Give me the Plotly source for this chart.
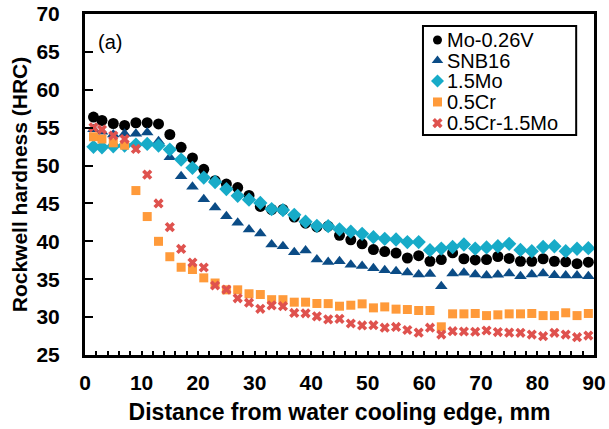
import plotly.graph_objects as go

distance_mm = [1.5, 3, 5, 7, 9, 11, 13, 15, 17, 19, 21, 23, 25, 27, 29, 31, 33, 35, 37, 39,
               41, 43, 45, 47, 49, 51, 53, 55, 57, 59, 61, 63, 65, 67, 69, 71, 73, 75, 77, 79,
               81, 83, 85, 87, 89]

mo_026v = [56.4, 55.95, 55.55, 55.3, 55.65, 55.65, 55.5, 54.1, 52.4, 51.0, 49.5, 48.0, 47.55,
           47.1, 46.05, 44.6, 44.2, 44.2, 43.2, 42.4, 41.9, 42.0, 40.8, 40.2, 39.67, 38.92,
           38.65, 38.45, 37.8, 38.1, 37.37, 37.6, 38.48, 37.7, 37.55, 37.6, 38.0, 37.75, 37.37,
           37.37, 37.7, 37.37, 37.3, 37.05, 37.25]

snb16 = [54.8, 54.45, 54.1, 54.2, 54.2, 54.35, 53.2, 51.1, 48.6, 47.2, 45.55, 44.45, 43.3,
         42.44, 41.56, 41.03, 39.58, 39.35, 38.56, 38.8, 37.6, 37.27, 37.37, 36.92, 36.75,
         36.45, 36.2, 36.06, 35.9, 35.62, 35.68, 34.08, 35.75, 35.84, 35.62, 35.49, 35.58,
         35.75, 35.38, 35.62, 35.75, 35.53, 35.49, 35.5, 35.4]

mo_15 = [52.47, 52.41, 52.55, 52.64, 52.77, 52.86, 52.64, 52.11, 50.79, 49.7, 48.42, 47.83,
         46.9, 46.0, 45.5, 45.07, 44.25, 44.13, 43.5, 42.6, 42.05, 42.0, 41.58, 41.27, 40.99,
         40.55, 40.33, 40.24, 39.9, 39.9, 38.83, 39.05, 39.25, 39.58, 39.05, 39.2, 39.35,
         39.67, 38.87, 38.7, 39.25, 39.35, 38.7, 39.02, 39.1]

cr_05 = [53.8, 53.5, 53.0, 52.68, 46.7, 43.27, 40.0, 37.97, 36.58, 36.28, 35.18, 34.5, 33.6,
         33.6, 33.08, 32.98, 32.3, 32.3, 31.97, 31.97, 31.8, 31.78, 31.44, 31.57, 31.75, 31.22,
         31.35, 31.05, 31.0, 30.87, 30.87, 28.72, 30.43, 30.43, 30.48, 30.2, 30.3, 30.43,
         30.43, 30.48, 30.2, 30.2, 30.57, 30.2, 30.48]

cr05_mo15 = [55.05, 54.75, 53.96, 53.5, 52.2, 48.8, 45.0, 41.88, 39.0, 37.2, 36.55, 34.17,
             33.64, 32.48, 31.9, 31.1, 31.55, 31.44, 30.55, 30.5, 30.1, 29.7, 29.77, 29.16,
             28.9, 28.93, 28.6, 28.7, 28.3, 27.95, 28.6, 27.7, 28.14, 28.1, 28.07, 28.23,
             28.03, 27.95, 27.93, 27.7, 27.48, 27.93, 27.7, 27.35, 27.57]

series_names = ["Mo-0.26V", "SNB16", "1.5Mo", "0.5Cr", "0.5Cr-1.5Mo"]
series_values = [mo_026v, snb16, mo_15, cr_05, cr05_mo15]
symbols = ["circle", "triangle-up", "diamond", "square", "x"]
marker_sizes = [11, 11, 11, 9, 9]
legend_marker_sizes = [9, 10, 10, 9, 9]
colors = ["#000000", "#0B4C86", "#17ABC8", "#FF9A3A", "#DF524E"]

FONT = "Arial, Liberation Sans, sans-serif"

fig = go.Figure()
for name, vals, sym, size, col in zip(series_names, series_values, symbols, marker_sizes, colors):
    fig.add_trace(go.Scatter(
        x=distance_mm, y=vals, mode="markers", name=name, showlegend=False,
        marker=dict(symbol=sym, size=size, color=col, line=dict(width=0)),
    ))

# Custom legend (box + markers on an overlay axis spanning the plot area + text)
leg_x0, leg_x1, leg_y0, leg_y1 = 0.664, 0.965, 0.645, 0.965
leg_marker_x = 0.6925
leg_text_x = 0.708
leg_rows_y = [0.9238, 0.8636, 0.8035, 0.7420, 0.6800]

fig.add_shape(type="rect", xref="paper", yref="paper",
              x0=leg_x0, x1=leg_x1, y0=leg_y0, y1=leg_y1,
              line=dict(color="black", width=2), fillcolor="white", layer="below")

for i, (name, sym, col) in enumerate(zip(series_names, symbols, colors)):
    fig.add_trace(go.Scatter(
        x=[leg_marker_x], y=[leg_rows_y[i]], mode="markers", showlegend=False,
        xaxis="x2", yaxis="y2", hoverinfo="skip",
        marker=dict(symbol=sym, size=legend_marker_sizes[i], color=col, line=dict(width=0)),
    ))
    fig.add_annotation(x=leg_text_x, y=leg_rows_y[i], xref="paper", yref="paper",
                       text=name, showarrow=False, xanchor="left", yanchor="middle",
                       font=dict(size=20, family=FONT, color="black"))

fig.add_annotation(x=0.022, y=0.918, xref="paper", yref="paper", text="(a)",
                   showarrow=False, xanchor="left", yanchor="middle",
                   font=dict(size=20, family=FONT, color="black"))

fig.update_layout(
    width=609, height=429,
    margin=dict(l=85, r=15, t=14, b=74),
    paper_bgcolor="white", plot_bgcolor="white",
    font=dict(family=FONT, color="black"),
    showlegend=False,
    xaxis=dict(
        range=[0, 90], dtick=10, tick0=0, automargin=False,
        showline=True, linecolor="black", linewidth=3, mirror=True,
        ticks="inside", ticklen=4, tickwidth=2, tickcolor="black",
        minor=dict(dtick=2, ticks="inside", ticklen=4, tickwidth=2, tickcolor="black"),
        showgrid=False, zeroline=False,
        tickfont=dict(size=21, family=FONT, weight="bold"),
        ticklabelstandoff=7,
        title=dict(text="Distance from water cooling edge, mm",
                   font=dict(size=23, family=FONT, weight="bold"), standoff=11),
    ),
    yaxis=dict(
        range=[25, 70], dtick=5, tick0=25, automargin=False,
        showline=True, linecolor="black", linewidth=3, mirror=True,
        ticks="inside", ticklen=8, tickwidth=2, tickcolor="black",
        showgrid=False, zeroline=False,
        tickfont=dict(size=21, family=FONT, weight="bold"),
        ticklabelstandoff=18,
        title=dict(text="Rockwell hardness (HRC)",
                   font=dict(size=21, family=FONT, weight="bold"), standoff=4),
    ),
    xaxis2=dict(overlaying="x", range=[0, 1], visible=False, fixedrange=True),
    yaxis2=dict(overlaying="y", range=[0, 1], visible=False, fixedrange=True),
)

fig.write_html("out.html",
               config={"displayModeBar": False},
               post_script="document.body.style.margin='0';document.body.style.overflow='hidden';")
